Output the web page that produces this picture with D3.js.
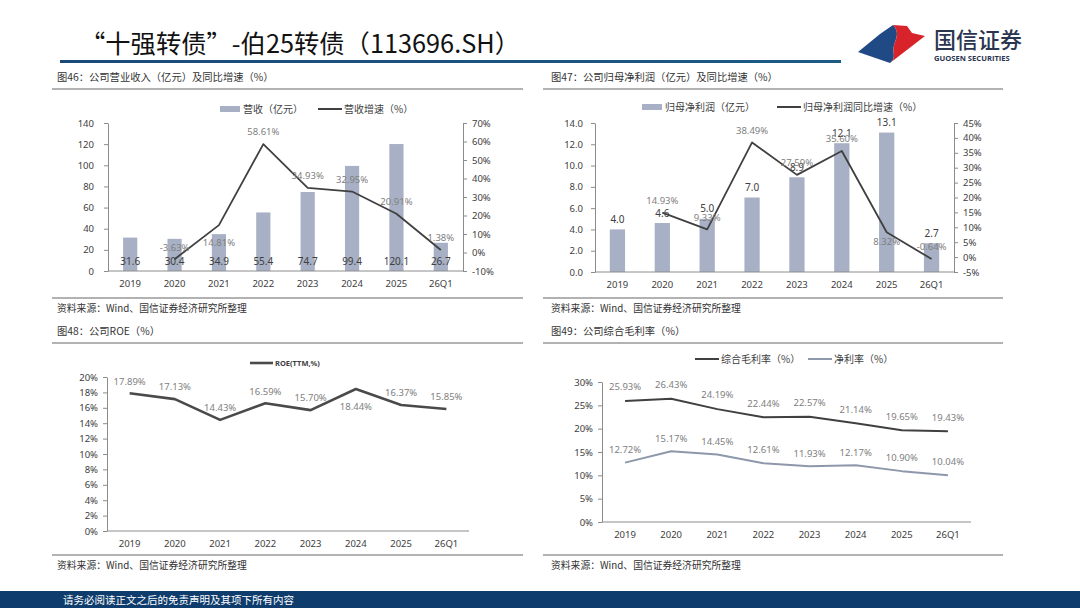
<!DOCTYPE html>
<html><head><meta charset="utf-8">
<script src="https://cdn.jsdelivr.net/npm/d3@7"></script>
<style>
html,body{margin:0;padding:0;background:#fff;}
svg{display:block;font-family:"Noto Sans CJK SC","Noto Sans",sans-serif;}
</style></head>
<body>
<svg id="c" width="1080" height="608"></svg>
<script>
// ---------- DATA ----------
const categories = ['2019','2020','2021','2022','2023','2024','2025','26Q1'];
const revenue = [31.6,30.4,34.9,55.4,74.7,99.4,120.1,26.7];
const revenueGrowth = [null,-3.63,14.81,58.61,34.93,32.95,20.91,1.38];
const netProfit = [4.0,4.6,5.0,7.0,8.9,12.1,13.1,2.7];
const netProfitGrowth = [null,14.93,9.33,38.49,27.59,35.60,8.32,-0.64];
const roe = [17.89,17.13,14.43,16.59,15.70,18.44,16.37,15.85];
const grossMargin = [25.93,26.43,24.19,22.44,22.57,21.14,19.65,19.43];
const netMargin = [12.72,15.17,14.45,12.61,11.93,12.17,10.90,10.04];

const revTicks = [0,20,40,60,80,100,120,140];
const revGrowthTicks = [-10,0,10,20,30,40,50,60,70];
const npTicks = [0,2,4,6,8,10,12,14];
const npGrowthTicks = [-5,0,5,10,15,20,25,30,35,40,45];
const roeTicks = [0,2,4,6,8,10,12,14,16,18,20];
const marginTicks = [0,5,10,15,20,25,30];

const pageTitle = '“十强转债”-伯25转债（113696.SH）';
const panelTitles = ['图46：公司营业收入（亿元）及同比增速（%）','图47：公司归母净利润（亿元）及同比增速（%）','图48：公司ROE（%）','图49：公司综合毛利率（%）'];
const sourceText = '资料来源：Wind、国信证券经济研究所整理';
const footerText = '请务必阅读正文之后的免责声明及其项下所有内容';

// label placement (style)
const revGrowthPos = ['a','a','b','a','a','a','a','a'];
const npGrowthPos = ['a','a','a','a','a','a','b','a'];
const roePos = ['a','a','a','a','a','b','a','a'];

// ---------- STYLE ----------
const BAR = '#A7B0C4', DARK = '#404040', LIGHT = '#8E98AB', LBL = '#808080', AX = '#8c8c8c', TXT = '#404040';
const svg = d3.select('#c');

// header
svg.append('text').attr('x',80).attr('y',53).attr('font-size',25).attr('fill','#111')
  .attr('textLength',440).attr('lengthAdjust','spacingAndGlyphs').text(pageTitle);
const grad = svg.append('defs').append('linearGradient').attr('id','hg');
grad.append('stop').attr('offset','0%').attr('stop-color','#1b4a78');
grad.append('stop').attr('offset','100%').attr('stop-color','#1d5a86');
svg.append('rect').attr('x',60).attr('y',60).attr('width',781).attr('height',3).attr('fill','url(#hg)');
// logo
svg.append('path').attr('d','M858,52 L880,34 L893,25 C900,32 896,39 894,45 C892,53 897,58 890,63 Z').attr('fill','#1f4a86');
svg.append('path').attr('d','M893,25 L907,26 L912,33 L925,36 L890,63 C897,58 892,53 894,45 C896,39 900,32 893,25 Z').attr('fill','#d8232a');
svg.append('text').attr('x',934).attr('y',48).attr('font-size',22).attr('fill','#2a3550').attr('font-weight',500).text('国信证券');
svg.append('text').attr('x',934).attr('y',61).attr('font-size',7.6).attr('fill','#2a3550').attr('font-weight',700).attr('font-family','"Open Sans",sans-serif').text('GUOSEN SECURITIES');

// footer
svg.append('rect').attr('x',0).attr('y',591).attr('width',1080).attr('height',17).attr('fill','#0e3c6c');
svg.append('text').attr('x',63).attr('y',604).attr('font-size',10.5).attr('fill','#fff').text(footerText);

// panel frames
function panel(x0,x1,tx,titleY,lineY,botY,title){
  svg.append('text').attr('x',tx).attr('y',titleY).attr('font-size',10.3).attr('fill','#333').text(title);
  svg.append('line').attr('x1',x0).attr('x2',x1).attr('y1',lineY).attr('y2',lineY).attr('stroke','#666').attr('stroke-width',1.2);
  svg.append('line').attr('x1',x0).attr('x2',x1).attr('y1',botY).attr('y2',botY).attr('stroke','#666').attr('stroke-width',1.2);
  svg.append('text').attr('x',tx).attr('y',botY+14).attr('font-size',9.8).attr('fill','#333').text(sourceText);
}
panel(52,523,57,81,89,298,panelTitles[0]);
panel(543,1003,551,81,89,298,panelTitles[1]);
panel(52,523,57,335,343,555,panelTitles[2]);
panel(543,1003,551,335,343,555,panelTitles[3]);

function axisStyle(g){
  g.selectAll('path').attr('stroke',AX);
  g.selectAll('line').attr('stroke',AX);
  g.selectAll('text').attr('fill',TXT).attr('font-size',9.5).attr('font-family','"Noto Sans","Noto Sans CJK SC",sans-serif');
}

function xAxis(x,y0,labelY){
  const g = svg.append('g').attr('transform',`translate(0,${y0})`)
    .call(d3.axisBottom(x).tickSize(0).tickPadding(labelY-y0-4));
  axisStyle(g);
  g.select('.domain').attr('d',`M${x.range()[0]},0H${x.range()[1]}`);
}
function legendBar(x,y,label){
  svg.append('rect').attr('x',x).attr('y',y-3).attr('width',20).attr('height',6).attr('fill',BAR);
  svg.append('text').attr('x',x+23).attr('y',y).attr('dy','0.35em').attr('font-size',10).attr('fill',TXT).text(label);
}
function legendLine(x,y,label,color,fs){
  svg.append('line').attr('x1',x).attr('x2',x+24).attr('y1',y).attr('y2',y).attr('stroke',color).attr('stroke-width',2);
  svg.append('text').attr('x',x+26).attr('y',y).attr('dy','0.35em').attr('font-size',fs||10).attr('fill',TXT).text(label);
}
function drawLine(x,y,vals,color,w){
  const pts = categories.map((c,i)=>({c,v:vals[i]})).filter(d=>d.v!==null);
  svg.append('path').datum(pts).attr('fill','none').attr('stroke',color).attr('stroke-width',w)
    .attr('stroke-linejoin','round')
    .attr('d',d3.line().x(d=>x(d.c)+x.bandwidth()/2).y(d=>y(d.v)));
}
function lineLabels(x,y,vals,pos,dyAbove,dyBelow){
  categories.forEach((c,i)=>{
    if(vals[i]===null) return;
    const p = pos ? pos[i] : 'a';
    svg.append('text').attr('x',x(c)+x.bandwidth()/2).attr('y',y(vals[i])+(p==='a'?-dyAbove:dyBelow))
      .attr('text-anchor','middle').attr('dy','0.35em').attr('font-size',9.5).attr('fill',LBL)
      .attr('font-family','"Noto Sans",sans-serif').text(vals[i].toFixed(2)+'%');
  });
}

// ---------- Chart 1 ----------
(function(){
  const x = d3.scaleBand().domain(categories).range([108,463]).paddingInner(0.68).paddingOuter(0.34);
  const yL = d3.scaleLinear().domain([0,140]).range([271,123]);
  const yR = d3.scaleLinear().domain([-10,70]).range([271,123]);
  const gl = svg.append('g').attr('transform','translate(108,0)').call(d3.axisLeft(yL).tickValues(revTicks).tickSize(4).tickSizeOuter(0).tickPadding(10));
  axisStyle(gl);
  const gr = svg.append('g').attr('transform','translate(463,0)').call(d3.axisRight(yR).tickValues(revGrowthTicks).tickSize(4).tickSizeOuter(0).tickPadding(5).tickFormat(d=>d+'%'));
  axisStyle(gr);
  svg.selectAll('.bar1').data(categories).enter().append('rect')
    .attr('x',d=>x(d)).attr('width',x.bandwidth())
    .attr('y',(d,i)=>yL(revenue[i])).attr('height',(d,i)=>yL(0)-yL(revenue[i])).attr('fill',BAR);
  xAxis(x,271,284);
  categories.forEach((c,i)=>{
    svg.append('text').attr('x',x(c)+x.bandwidth()/2).attr('y',261).attr('dy','0.35em').attr('text-anchor','middle')
      .attr('font-size',10).attr('fill',TXT).attr('font-family','"Noto Sans",sans-serif').text(revenue[i].toFixed(1));
  });
  drawLine(x,yR,revenueGrowth,DARK,1.8);
  lineLabels(x,yR,revenueGrowth,revGrowthPos,12,18);
  legendBar(220,109,'营收（亿元）');
  legendLine(318,109,'营收增速（%）',DARK);
})();

// ---------- Chart 2 ----------
(function(){
  const x = d3.scaleBand().domain(categories).range([595,954]).paddingInner(0.66).paddingOuter(0.33);
  const yL = d3.scaleLinear().domain([0,14]).range([272,123]);
  const yR = d3.scaleLinear().domain([-5,45]).range([272,123]);
  const gl = svg.append('g').attr('transform','translate(595,0)').call(d3.axisLeft(yL).tickValues(npTicks).tickSize(4).tickSizeOuter(0).tickPadding(8).tickFormat(d3.format('.1f')));
  axisStyle(gl);
  const gr = svg.append('g').attr('transform','translate(954,0)').call(d3.axisRight(yR).tickValues(npGrowthTicks).tickSize(4).tickSizeOuter(0).tickPadding(5).tickFormat(d=>d+'%'));
  axisStyle(gr);
  svg.selectAll('.bar2').data(categories).enter().append('rect')
    .attr('x',d=>x(d)).attr('width',x.bandwidth())
    .attr('y',(d,i)=>yL(netProfit[i])).attr('height',(d,i)=>yL(0)-yL(netProfit[i])).attr('fill',BAR);
  xAxis(x,272,285);
  categories.forEach((c,i)=>{
    svg.append('text').attr('x',x(c)+x.bandwidth()/2).attr('y',yL(netProfit[i])-10).attr('dy','0.35em').attr('text-anchor','middle')
      .attr('font-size',10).attr('fill',TXT).attr('font-family','"Noto Sans",sans-serif').text(netProfit[i].toFixed(1));
  });
  drawLine(x,yR,netProfitGrowth,DARK,1.8);
  lineLabels(x,yR,netProfitGrowth,npGrowthPos,12,9);
  legendBar(642,107,'归母净利润（亿元）');
  legendLine(777,107,'归母净利润同比增速（%）',DARK);
})();

// ---------- Chart 3 ----------
(function(){
  const x = d3.scaleBand().domain(categories).range([107,469]);
  const y = d3.scaleLinear().domain([0,20]).range([531,377]);
  const gl = svg.append('g').attr('transform','translate(107,0)').call(d3.axisLeft(y).tickValues(roeTicks).tickSize(4).tickSizeOuter(0).tickPadding(5).tickFormat(d=>d+'%'));
  axisStyle(gl);
  xAxis(x,531,544);
  drawLine(x,y,roe,'#4a4a4a',2.6);
  lineLabels(x,y,roe,roePos,12,18);
  svg.append('line').attr('x1',250).attr('x2',273).attr('y1',363).attr('y2',363).attr('stroke','#4a4a4a').attr('stroke-width',2.6);
  svg.append('text').attr('x',275).attr('y',363).attr('dy','0.35em').attr('font-size',7.5).attr('font-weight',700).attr('fill',TXT)
    .attr('font-family','"Noto Sans",sans-serif').text('ROE(TTM,%)');
})();

// ---------- Chart 4 ----------
(function(){
  const x = d3.scaleBand().domain(categories).range([602,971]);
  const y = d3.scaleLinear().domain([0,30]).range([522,382]);
  const gl = svg.append('g').attr('transform','translate(602,0)').call(d3.axisLeft(y).tickValues(marginTicks).tickSize(4).tickSizeOuter(0).tickPadding(5).tickFormat(d=>d+'%'));
  axisStyle(gl);
  xAxis(x,522,535);
  drawLine(x,y,grossMargin,DARK,2);
  drawLine(x,y,netMargin,LIGHT,2);
  lineLabels(x,y,grossMargin,null,14,14);
  lineLabels(x,y,netMargin,null,13,13);
  legendLine(695,359,'综合毛利率（%）',DARK);
  legendLine(808,359,'净利率（%）',LIGHT);
})();
</script>
</body></html>
